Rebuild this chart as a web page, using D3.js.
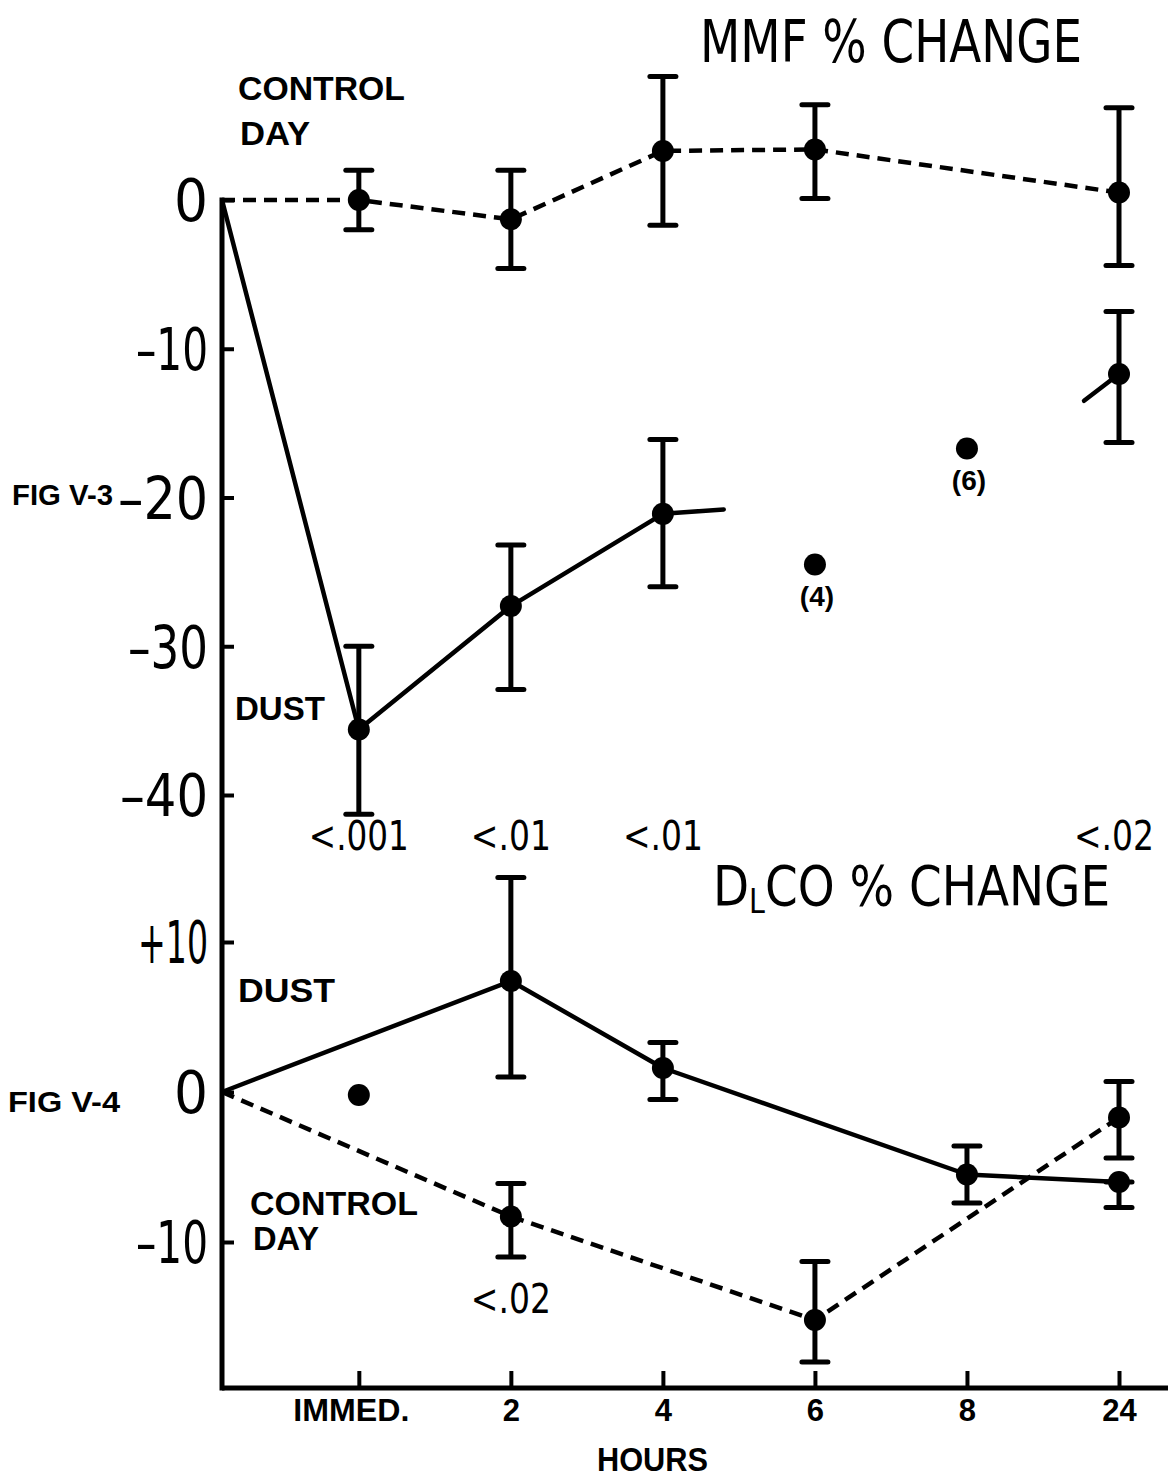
<!DOCTYPE html>
<html>
<head>
<meta charset="utf-8">
<script src="https://cdn.jsdelivr.net/npm/d3@7"></script>
<style>
  html, body { margin: 0; padding: 0; background: #fff; }
  svg { display: block; }
  text { fill: #000; }
</style>
</head>
<body>
<svg id="chart" width="1168" height="1481"></svg>
<script>
// ---------- DATA ----------
const xCategories = ["IMMED.", "2", "4", "6", "8", "24"];   // index 0..5
const originIndex = -0.9;                                     // start point (time zero) on the axis

// Fig V-3  MMF % change
const mmfTicks = [0, -10, -20, -30, -40];
const mmfTickLabels = ["0", "\u201310", "\u201320", "\u201330", "\u201340"];
const mmfControl = [          // dashed, with SE bars
  { i: 0, v: 0.0,   lo: -2.0,  hi: 2.0 },
  { i: 1, v: -1.3,  lo: -4.6,  hi: 2.0 },
  { i: 2, v: 3.3,   lo: -1.7,  hi: 8.3 },
  { i: 3, v: 3.4,   lo: 0.1,   hi: 6.4 },
  { i: 5, v: 0.5,   lo: -4.4,  hi: 6.2 }
];
const mmfDust = [             // solid, with SE bars
  { i: 0, v: -35.6, lo: -41.3, hi: -30.0 },
  { i: 1, v: -27.3, lo: -32.9, hi: -23.2 },
  { i: 2, v: -21.1, lo: -26.0, hi: -16.1 },
  { i: 5, v: -11.7, lo: -16.3, hi: -7.5 }
];
const mmfDustSingles = [      // isolated points with n in parentheses
  { i: 3, v: -24.5, n: "(4)" },
  { i: 4, v: -16.7, n: "(6)" }
];
const mmfStubs = [            // short free-hand continuation strokes
  { from: { i: 2, v: -21.1 }, to: { i: 2.4, v: -20.8 } },
  { from: { i: 4.77, v: -13.5 }, to: { i: 5, v: -11.7 } }
];
const mmfPValues = [
  { i: 0, p: "<.001" }, { i: 1, p: "<.01" }, { i: 2, p: "<.01" }, { i: 5, p: "<.02" }
];

// Fig V-4  DLCO % change
const dlcoTicks = [10, 0, -10];
const dlcoTickLabels = ["+10", "0", "\u201310"];
const dlcoDust = [
  { i: 1, v: 7.4,  lo: 1.0,  hi: 14.3 },
  { i: 2, v: 1.6,  lo: -0.5, hi: 3.3 },
  { i: 4, v: -5.5, lo: -7.4, hi: -3.6 },
  { i: 5, v: -6.0, lo: -7.7, hi: -6.0 }
];
const dlcoDustSingles = [ { i: 0, v: -0.2 } ];
const dlcoControl = [
  { i: 1, v: -8.3,  lo: -11.0, hi: -6.1 },
  { i: 3, v: -15.2, lo: -18.0, hi: -11.3 },
  { i: 5, v: -1.7,  lo: -4.4,  hi: 0.7 }
];
const dlcoPValues = [ { i: 1, p: "<.02" } ];

// ---------- DRAW ----------
const svg = d3.select("#chart");
const W = 1168, H = 1481;
svg.append("rect").attr("width", W).attr("height", H).attr("fill", "#fff");

const axisX = 222, axisBottom = 1388, axisTop = 200;
const x = d3.scaleLinear().domain([originIndex, 5]).range([axisX, 1119]);
const yU = d3.scaleLinear().domain([0, -40]).range([200, 795]);
const yL = d3.scaleLinear().domain([10, -10]).range([942, 1242]);

const NARROW = "'Liberation Sans Narrow', 'DejaVu Sans Condensed', 'Liberation Sans', sans-serif";
const SANS = "'Liberation Sans', Arial, sans-serif";
// drawn widths of the hand-lettered tick numbers
const tickWidth = { "0": 34, "\u201310": 72, "\u201320": 90, "\u201330": 80, "\u201340": 88, "+10": 70 };

// axis lines
svg.append("line").attr("x1", axisX).attr("x2", axisX).attr("y1", axisTop).attr("y2", axisBottom)
  .attr("stroke", "#000").attr("stroke-width", 5).attr("stroke-linecap", "square");
svg.append("line").attr("x1", axisX).attr("x2", W).attr("y1", axisBottom).attr("y2", axisBottom)
  .attr("stroke", "#000").attr("stroke-width", 5);

function styleAxis(g) {
  g.select(".domain").remove();
  g.selectAll(".tick line").attr("stroke", "#000").attr("stroke-width", 4);
}
function styleLeftLabels(g) {
  g.selectAll(".tick text")
    .attr("font-family", NARROW).attr("font-size", 58).attr("fill", "#000")
    .attr("dy", "0.36em")
    .attr("textLength", function () { return tickWidth[this.textContent] || null; })
    .attr("lengthAdjust", "spacingAndGlyphs");
}

// left axes (ticks pointing inward)
const gU = svg.append("g").attr("transform", `translate(${axisX},0)`)
  .call(d3.axisLeft(yU).tickValues(mmfTicks).tickSize(-12).tickPadding(14)
    .tickFormat((d, k) => mmfTickLabels[k]));
styleAxis(gU); styleLeftLabels(gU);

const gL = svg.append("g").attr("transform", `translate(${axisX},0)`)
  .call(d3.axisLeft(yL).tickValues(dlcoTicks).tickSize(-12).tickPadding(14)
    .tickFormat((d, k) => dlcoTickLabels[k]));
styleAxis(gL); styleLeftLabels(gL);

// bottom axis
const gX = svg.append("g").attr("transform", `translate(0,${axisBottom})`)
  .call(d3.axisBottom(x).tickValues(d3.range(6)).tickSize(-17).tickPadding(0)
    .tickFormat(i => xCategories[i]));
styleAxis(gX);
gX.selectAll(".tick text").attr("font-weight", "bold").attr("y", 33).attr("dy", 0)
  .attr("font-family", SANS).attr("font-size", 31).attr("fill", "#000")
  .attr("dx", function () { return this.textContent === "IMMED." ? -8 : 0; })
  .attr("textLength", function () { return this.textContent === "IMMED." ? 116 : null; })
  .attr("lengthAdjust", "spacingAndGlyphs");

// helpers
function lineSeries(points, yS, dashed) {
  const pts = [{ i: originIndex, v: 0 }].concat(points);
  svg.append("path").datum(pts)
    .attr("d", d3.line().x(d => x(d.i)).y(d => yS(d.v)))
    .attr("fill", "none").attr("stroke", "#000").attr("stroke-width", 4.5)
    .attr("stroke-linejoin", "round")
    .attr("stroke-dasharray", dashed ? "13,8" : null);
}
function errorBars(points, yS) {
  const g = svg.append("g").attr("stroke", "#000").attr("stroke-width", 5);
  points.forEach(d => {
    g.append("line").attr("x1", x(d.i)).attr("x2", x(d.i)).attr("y1", yS(d.lo)).attr("y2", yS(d.hi));
    [d.lo, d.hi].forEach(e => {
      g.append("line").attr("x1", x(d.i) - 13).attr("x2", x(d.i) + 13)
        .attr("y1", yS(e)).attr("y2", yS(e)).attr("stroke-linecap", "round");
    });
  });
}
function dots(points, yS, r) {
  svg.append("g").selectAll("circle").data(points).join("circle")
    .attr("cx", d => x(d.i)).attr("cy", d => yS(d.v)).attr("r", r).attr("fill", "#000");
}
function pLabels(points, yy) {
  svg.append("g").selectAll("text").data(points).join("text")
    .attr("x", d => Math.min(x(d.i), 1114)).attr("y", yy)
    .attr("text-anchor", "middle").attr("font-family", NARROW).attr("font-size", 40)
    .attr("textLength", d => d.p.length * 20).attr("lengthAdjust", "spacingAndGlyphs")
    .text(d => d.p);
}

// Upper panel
lineSeries(mmfControl, yU, true);
lineSeries(mmfDust.slice(0, 3), yU, false);
mmfStubs.forEach(s => {
  svg.append("line").attr("x1", x(s.from.i)).attr("y1", yU(s.from.v))
    .attr("x2", x(s.to.i)).attr("y2", yU(s.to.v))
    .attr("stroke", "#000").attr("stroke-width", 4.5).attr("stroke-linecap", "round");
});
errorBars(mmfControl, yU);
errorBars(mmfDust, yU);
dots(mmfControl, yU, 11);
dots(mmfDust, yU, 11);
dots(mmfDustSingles, yU, 11);
svg.append("g").selectAll("text").data(mmfDustSingles).join("text")
  .attr("x", d => x(d.i) + 2).attr("y", d => yU(d.v) + 42)
  .attr("text-anchor", "middle").attr("font-family", SANS)
  .attr("font-weight", "bold").attr("font-size", 28).text(d => d.n);
pLabels(mmfPValues, 850);

// Lower panel
lineSeries(dlcoDust, yL, false);
lineSeries(dlcoControl, yL, true);
errorBars(dlcoDust, yL);
errorBars(dlcoControl, yL);
dots(dlcoDust, yL, 11);
dots(dlcoControl, yL, 11);
dots(dlcoDustSingles, yL, 11);
pLabels(dlcoPValues, 1313);

// Text labels
function label(txt, xx, yy, size, len, bold, family) {
  const t = svg.append("text").attr("x", xx).attr("y", yy)
    .attr("font-family", family || SANS)
    .attr("font-size", size).attr("font-weight", bold ? "bold" : "normal").text(txt);
  if (len) t.attr("textLength", len).attr("lengthAdjust", "spacingAndGlyphs");
  return t;
}
label("CONTROL", 238, 100, 34, 167, true);
label("DAY", 240, 145, 34, 70, true);
label("DUST", 235, 720, 34, 90, true);
label("DUST", 238, 1002, 34, 97, true);
label("CONTROL", 250, 1215, 34, 168, true);
label("DAY", 253, 1250, 34, 66, true);
label("FIG V-3", 12, 505, 30, 101, true);
label("FIG V-4", 8, 1112, 30, 112, true);
label("HOURS", 597, 1471, 34, 111, true);

// Titles
label("MMF  % CHANGE", 700, 62, 58, 382, false, NARROW);
const t2 = svg.append("text").attr("x", 713).attr("y", 905)
  .attr("font-family", NARROW).attr("font-size", 56).attr("textLength", 397)
  .attr("lengthAdjust", "spacingAndGlyphs");
t2.append("tspan").text("D");
t2.append("tspan").attr("font-size", 34).attr("dy", 8).text("L");
t2.append("tspan").attr("dy", -8).text("CO  % CHANGE");
</script>
</body>
</html>
